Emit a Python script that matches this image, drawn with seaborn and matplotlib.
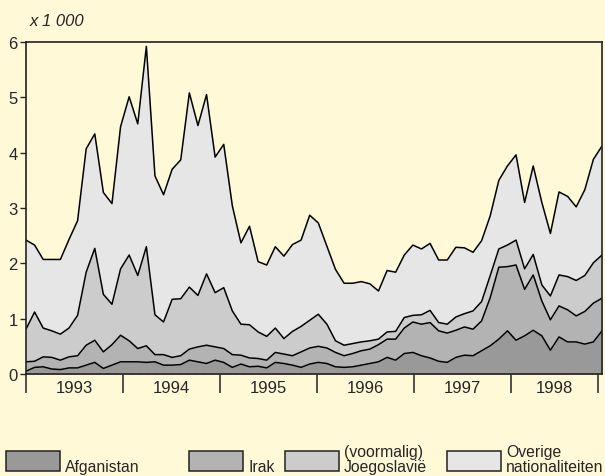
import numpy as np
import seaborn as sns
import matplotlib.pyplot as plt
from matplotlib.patches import Rectangle

# asielverzoeken per maand (x 1 000), jan 1993 - aug 1998
months = np.arange(68)

afganistan = [0.05, 0.12, 0.13, 0.09, 0.08, 0.11, 0.11, 0.16, 0.21, 0.10,
              0.16, 0.22, 0.22, 0.22, 0.21, 0.22, 0.16, 0.16, 0.17, 0.25,
              0.22, 0.19, 0.25, 0.21, 0.12, 0.18, 0.13, 0.14, 0.11, 0.21,
              0.19, 0.16, 0.12, 0.18, 0.21, 0.19, 0.13, 0.12, 0.13, 0.16,
              0.19, 0.22, 0.30, 0.25, 0.37, 0.39, 0.33, 0.29, 0.23, 0.21,
              0.30, 0.34, 0.33, 0.42, 0.51, 0.63, 0.78, 0.61, 0.69, 0.79,
              0.69, 0.43, 0.67, 0.58, 0.58, 0.54, 0.58, 0.78]

irak = [0.17, 0.11, 0.18, 0.21, 0.17, 0.20, 0.22, 0.36, 0.40, 0.30,
        0.37, 0.48, 0.38, 0.24, 0.30, 0.13, 0.19, 0.14, 0.16, 0.20,
        0.27, 0.33, 0.24, 0.25, 0.23, 0.16, 0.16, 0.14, 0.14, 0.18,
        0.17, 0.17, 0.28, 0.29, 0.29, 0.28, 0.26, 0.21, 0.24, 0.26,
        0.26, 0.31, 0.33, 0.38, 0.46, 0.55, 0.57, 0.64, 0.55, 0.53,
        0.49, 0.51, 0.48, 0.54, 0.87, 1.30, 1.16, 1.36, 0.84, 1.00,
        0.63, 0.55, 0.56, 0.58, 0.47, 0.59, 0.70, 0.59]

joegoslavie = [0.59, 0.89, 0.52, 0.48, 0.47, 0.52, 0.73, 1.32, 1.66, 1.04,
               0.73, 1.20, 1.55, 1.32, 1.79, 0.72, 0.59, 1.05, 1.03, 1.12,
               0.93, 1.29, 0.98, 1.10, 0.79, 0.56, 0.60, 0.48, 0.43, 0.44,
               0.28, 0.44, 0.46, 0.50, 0.58, 0.43, 0.21, 0.19, 0.18, 0.16,
               0.15, 0.10, 0.13, 0.14, 0.19, 0.12, 0.17, 0.22, 0.15, 0.16,
               0.24, 0.24, 0.33, 0.35, 0.40, 0.33, 0.39, 0.45, 0.37, 0.37,
               0.29, 0.43, 0.56, 0.60, 0.64, 0.65, 0.73, 0.78]

overige = [1.61, 1.21, 1.24, 1.29, 1.35, 1.60, 1.71, 2.23, 2.07, 1.84,
           1.82, 2.57, 2.86, 2.74, 3.62, 2.51, 2.30, 2.35, 2.51, 3.51,
           3.07, 3.24, 2.45, 2.59, 1.90, 1.47, 1.78, 1.27, 1.29, 1.47,
           1.49, 1.57, 1.56, 1.90, 1.65, 1.41, 1.29, 1.12, 1.09, 1.09,
           1.03, 0.87, 1.11, 1.07, 1.13, 1.27, 1.19, 1.21, 1.13, 1.16,
           1.26, 1.19, 1.06, 1.10, 1.08, 1.24, 1.43, 1.54, 1.20, 1.60,
           1.49, 1.13, 1.50, 1.45, 1.33, 1.55, 1.87, 1.97]

years = ['1993', '1994', '1995', '1996', '1997', '1998']
series = [afganistan, irak, joegoslavie, overige]
labels = ['Afganistan', 'Irak', '(voormalig)\nJoegoslavië', 'Overige\nnationaliteiten']
colors = ['#999999', '#b3b3b3', '#cccccc', '#e6e6e6']
bg = '#fff9d8'

sns.set_style('ticks')
plt.rcParams['font.family'] = ['Liberation Sans', 'DejaVu Sans']

fig = plt.figure(figsize=(6.05, 4.77), dpi=100, facecolor=bg)
ax = fig.add_axes([26 / 605, 1 - 375 / 477, 576 / 605, 332 / 477])
ax.set_facecolor(bg)

base = np.zeros(len(months))
for vals, c in zip(series, colors):
    top = base + np.array(vals)
    ax.fill_between(months, base, top, color=c, lw=0)
    sns.lineplot(x=months, y=top, color='black', lw=1.1, ax=ax)
    base = top

ax.set_xlim(0, 67)
ax.set_ylim(0, 6)

# jaargrenzen en maandstreepjes
year_len = 11.28
year_edges = [year_len * k for k in range(6)] + [66.5]
ax.set_xticks(year_edges)
ax.set_xticklabels([])
ax.set_xticks(np.arange(0, 66.6, year_len / 12), minor=True)
ax.tick_params(axis='x', which='major', direction='out', length=14, width=1.1, color='#222222')
ax.tick_params(axis='x', which='minor', direction='in', length=4.5, width=1, color='#111111')
for i, y in enumerate(years):
    mid = (year_edges[i] + year_edges[i + 1]) / 2
    ax.annotate(y, xy=(mid, 0), xycoords=('data', 'axes fraction'),
                xytext=(0, -4), textcoords='offset points',
                ha='center', va='top', fontsize=12)

ax.set_yticks(range(7))
ax.tick_params(axis='y', direction='out', length=4, width=1, labelsize=12, pad=2)
ax.set_xlabel('')
ax.set_ylabel('')
for s in ax.spines.values():
    s.set_visible(True)
    s.set_color('#222222')
    s.set_linewidth(1.2)

fig.text(30 / 605, 1 - 21 / 477, 'x 1 000', style='italic', fontsize=12, va='center')

# legenda
box_x = [6, 189, 285, 447]
for bx, c, lab in zip(box_x, colors, labels):
    fig.patches.append(Rectangle((bx / 605, 1 - 472 / 477), 54 / 605, 20 / 477,
                                 transform=fig.transFigure, facecolor=c,
                                 edgecolor='#222222', lw=1.1))
    fig.text((bx + 59) / 605, 1 - 475 / 477, lab, fontsize=11.3,
             ha='left', va='bottom', linespacing=1.0)

fig.savefig('out.png', dpi=100, facecolor=bg)
